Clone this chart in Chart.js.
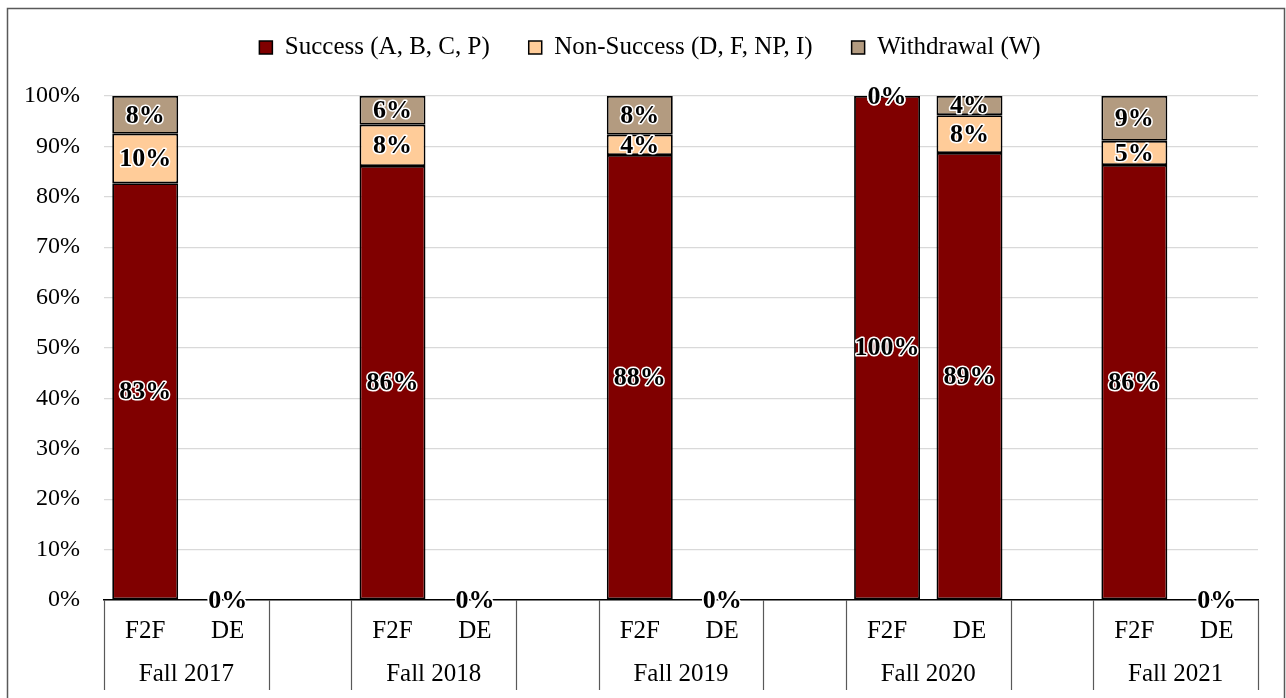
<!DOCTYPE html>
<html>
<head>
<meta charset="utf-8">
<script src="https://cdn.jsdelivr.net/npm/chart.js@4/dist/chart.umd.min.js"></script>
<style>
  html, body { margin: 0; padding: 0; background: #fff; }
  #wrap { position: relative; width: 1286px; height: 698px; }
</style>
</head>
<body>
<div id="wrap"><canvas id="chart"></canvas></div>
<script>
// ---------------- DATA ----------------
const categories = ["F2F", "DE", "", "F2F", "DE", "", "F2F", "DE", "", "F2F", "DE", "", "F2F", "DE"];
const groups = ["Fall 2017", "Fall 2018", "Fall 2019", "Fall 2020", "Fall 2021"];

const success    = [82.7, 0, null, 86.1, 0, null, 88.3, 0, null, 100, 88.7, null, 86.3, 0];
const nonSuccess = [9.8,  0, null, 8.2,  0, null, 4.0,  0, null, 0,   7.5,  null, 4.8,  0];
const withdrawal = [7.5,  0, null, 5.7,  0, null, 7.7,  0, null, 0,   3.8,  null, 8.9,  0];

const yTicks = [0, 10, 20, 30, 40, 50, 60, 70, 80, 90, 100];

const FONT = "'Liberation Serif', 'Times New Roman', serif";

// ---------------- PLUGINS ----------------

// outer frame around the whole chart
const framePlugin = {
    id: "frame",
    beforeDraw(chart) {
        const ctx = chart.ctx;
        ctx.save();
        ctx.fillStyle = "#fff";
        ctx.fillRect(0, 0, chart.width, chart.height);
        ctx.strokeStyle = "#595959";
        ctx.lineWidth = 1.5;
        ctx.strokeRect(7.5, 8.5, 1277, 700);
        ctx.restore();
    }
};

// move the legend up near the frame top and a little to the right
const legendShiftPlugin = {
    id: "legendShift",
    afterLayout(chart) {
        const lg = chart.legend;
        if (!lg) return;
        const dy = 26, dx = 21;
        lg.top -= dy;
        lg.bottom -= dy;
        lg.left += dx;
        lg.right += dx;
        (lg.legendHitBoxes || []).forEach(h => { h.top -= dy; h.left += dx; });
    }
};

// two level category axis: separators + group names
const groupAxisPlugin = {
    id: "groupAxis",
    afterDraw(chart) {
        const x = chart.scales.x;
        const ctx = chart.ctx;
        const w = x.width / categories.length;
        const top = chart.chartArea.bottom;
        const bottom = top + 90;
        ctx.save();
        ctx.strokeStyle = "#595959";
        ctx.lineWidth = 1.2;
        ctx.fillStyle = "#000";
        ctx.font = "25px " + FONT;
        ctx.textAlign = "center";
        ctx.textBaseline = "middle";
        groups.forEach((g, i) => {
            const left = x.getPixelForValue(i * 3) - w / 2;
            const right = x.getPixelForValue(i * 3 + 1) + w / 2;
            [left, right].forEach(px => {
                ctx.beginPath();
                ctx.moveTo(Math.round(px) + 0.5, top);
                ctx.lineTo(Math.round(px) + 0.5, bottom);
                ctx.stroke();
            });
            ctx.fillText(g, (left + right) / 2, top + 74);
        });
        ctx.restore();
    }
};

// percentage labels in the middle of each segment
const barLabelPlugin = {
    id: "barLabels",
    afterDatasetsDraw(chart) {
        const ctx = chart.ctx;
        ctx.save();
        ctx.font = "bold 26px " + FONT;
        ctx.textAlign = "center";
        ctx.textBaseline = "middle";
        ctx.lineJoin = "round";
        chart.data.datasets.forEach((ds, di) => {
            const meta = chart.getDatasetMeta(di);
            meta.data.forEach((bar, i) => {
                const v = ds.data[i];
                if (v === null || v === undefined) return;
                const p = bar.getProps(["x", "y", "base"], true);
                const cy = (p.y + p.base) / 2 + 1;
                const txt = Math.round(v) + "%";
                ctx.strokeStyle = "#fff";
                ctx.lineWidth = 3;
                ctx.strokeText(txt, p.x, cy);
                ctx.fillStyle = "#000";
                ctx.fillText(txt, p.x, cy);
            });
        });
        ctx.restore();
    }
};

// ---------------- CHART ----------------

const segBorder = ctx => (ctx.raw ? 1.8 : 0);

new Chart(document.getElementById("chart"), {
    type: "bar",
    data: {
        labels: categories,
        datasets: [
            {
                label: "Success (A, B, C, P)",
                data: success,
                backgroundColor: "#800000",
                borderColor: "#000",
                borderWidth: segBorder,
                borderSkipped: false
            },
            {
                label: "Non-Success (D, F, NP, I)",
                data: nonSuccess,
                backgroundColor: "#FFCC99",
                borderColor: "#000",
                borderWidth: segBorder,
                borderSkipped: false
            },
            {
                label: "Withdrawal (W)",
                data: withdrawal,
                backgroundColor: "#B39B80",
                borderColor: "#000",
                borderWidth: segBorder,
                borderSkipped: false
            }
        ]
    },
    options: {
        responsive: true,
        maintainAspectRatio: false,
        animation: false,
        barPercentage: 0.8,
        categoryPercentage: 1.0,
        layout: { padding: { top: 22, right: 28, bottom: 0, left: 0 } },
        plugins: {
            legend: {
                position: "top",
                labels: {
                    color: "#000",
                    font: { family: FONT, size: 25 },
                    boxWidth: 13,
                    boxHeight: 13,
                    padding: 39,
                    generateLabels(chart) {
                        return chart.data.datasets.map((ds, i) => ({
                            text: ds.label,
                            fillStyle: ds.backgroundColor,
                            strokeStyle: "#000",
                            lineWidth: 1.5,
                            datasetIndex: i
                        }));
                    }
                }
            },
            tooltip: { enabled: false }
        },
        scales: {
            x: {
                stacked: true,
                afterFit: scale => { scale.height = 98; },
                grid: { display: false },
                border: { color: "#000", width: 1.5 },
                ticks: {
                    color: "#000",
                    font: { family: FONT, size: 25 },
                    padding: 8,
                    maxRotation: 0,
                    autoSkip: false
                }
            },
            y: {
                stacked: true,
                min: 0,
                max: 100,
                afterFit: scale => { scale.width = 104; },
                afterBuildTicks: scale => { scale.ticks = yTicks.map(v => ({ value: v })); },
                grid: { color: "#d9d9d9", lineWidth: 1.2, drawTicks: false },
                border: { display: false },
                ticks: {
                    color: "#000",
                    font: { family: FONT, size: 24 },
                    padding: 24,
                    callback: v => v + "%"
                }
            }
        }
    },
    plugins: [framePlugin, legendShiftPlugin, groupAxisPlugin, barLabelPlugin]
});
</script>
</body>
</html>
